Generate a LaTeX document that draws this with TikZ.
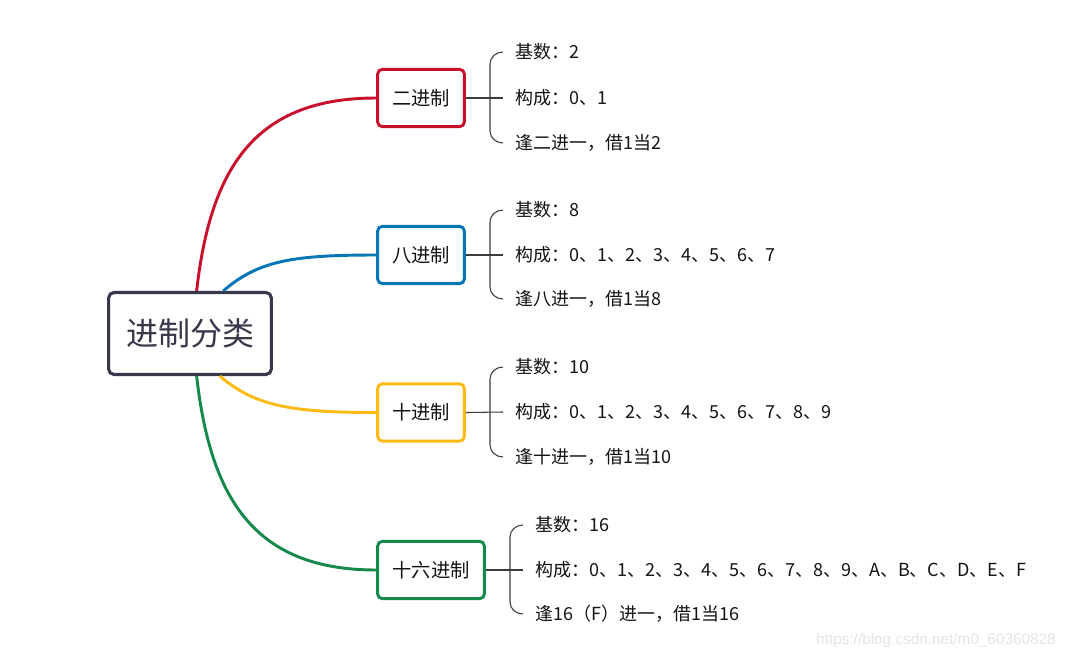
\documentclass[tikz,border=0pt]{standalone}
\usepackage{fontspec}
\setmainfont{Noto Sans CJK SC}
\newfontfamily\wmfont{Liberation Sans}
\usetikzlibrary{calc}
\definecolor{cred}{RGB}{200,16,46}
\definecolor{cblue}{RGB}{0,118,182}
\definecolor{cyellow}{RGB}{252,186,18}
\definecolor{cgreen}{RGB}{21,137,76}
\definecolor{croot}{RGB}{56,56,74}
\definecolor{ctext}{RGB}{20,20,20}
\definecolor{cbrace}{RGB}{60,60,60}
\begin{document}
\begin{tikzpicture}[x=0.75pt,y=-0.75pt,
  rootbox/.style={draw=croot, line width=2.3pt, rounded corners=4pt, fill=white,
    minimum width=122pt, minimum height=61.5pt, inner sep=0pt,
    font=\fontsize{24}{28}\selectfont, text=croot},
  branchbox/.style={draw=#1, line width=2.2pt, rounded corners=3.5pt, fill=white,
    minimum width=65pt, minimum height=43pt, inner sep=0pt,
    font=\fontsize{14.5}{17}\selectfont, text=ctext},
  branch/.style={draw=#1, line width=2.2pt},
  leaf/.style={anchor=west, inner sep=0pt, font=\fontsize{13.5}{16}\selectfont, text=ctext},
  bracket/.style={draw=cbrace, line width=0.8pt}
]
\useasboundingbox (0,0) rectangle (1069,660);
\fill[white] (0,0) rectangle (1069,660);

% root
\node[rootbox] (root) at (190,333.5) {进制分类};

% branch boxes
\node[branchbox=cred] (b2) at (421,98) {二进制};
\node[branchbox=cblue] (b8) at (421,255) {八进制};
\node[branchbox=cyellow] (b10) at (421,412.5) {十进制};
\node[branchbox=cgreen, minimum width=80pt] (b16) at (431,570) {十六进制};

% start points on root
\coordinate (sr) at ($(root.north west)!0.54!(root.north east)$);
\coordinate (sb) at ($(root.north west)!0.70!(root.north east)$);
\coordinate (sy) at ($(root.south west)!0.68!(root.south east)$);
\coordinate (sg) at ($(root.south west)!0.54!(root.south east)$);

\draw[branch=cred] (sr) .. controls +(14,-125) and +(-120,0) .. (b2.west);
\draw[branch=cblue] (sb) .. controls +(35,-30) and +(-85,0) .. (b8.west);
\draw[branch=cyellow] (sy) .. controls +(35,30) and +(-85,0) .. (b10.west);
\draw[branch=cgreen] (sg) .. controls +(14,125) and +(-120,0) .. (b16.west);

% leaves: binary
\node[leaf] (l2a) at (515,52) {基数：2};
\node[leaf] (l2b) at (515,98) {构成：0、1};
\node[leaf] (l2c) at (515,143) {逢二进一，借1当2};
% octal
\node[leaf] (l8a) at (515,210) {基数：8};
\node[leaf] (l8b) at (515,255) {构成：0、1、2、3、4、5、6、7};
\node[leaf] (l8c) at (515,299) {逢八进一，借1当8};
% decimal
\node[leaf] (l10a) at (515,367) {基数：10};
\node[leaf] (l10b) at (515,412) {构成：0、1、2、3、4、5、6、7、8、9};
\node[leaf] (l10c) at (515,457) {逢十进一，借1当10};
% hex
\node[leaf] (l16a) at (535,525) {基数：16};
\node[leaf] (l16b) at (535,570) {构成：0、1、2、3、4、5、6、7、8、9、A、B、C、D、E、F};
\node[leaf] (l16c) at (535,614) {逢16（F）进一，借1当16};

% brackets
\foreach \b/\ta/\tb/\tc in {b2/l2a/l2b/l2c, b8/l8a/l8b/l8c, b10/l10a/l10b/l10c, b16/l16a/l16b/l16c}{
  \draw[bracket] (\b.east) -- ($(\tb.west)+(-12,0)$);
  \draw[bracket] ($(\ta.west)+(-12,0)$) to[out=180,in=90] ($(\ta.west)+(-25,12)$)
     -- ($(\tc.west)+(-25,-12)$) to[out=-90,in=180] ($(\tc.west)+(-12,0)$);
}

% watermark
\node[inner sep=0pt, text=black!10, font=\wmfont\fontsize{11.5}{13}\selectfont] (wm) at (936,641) {https://blog.csdn.net/m0\_60360828};
\end{tikzpicture}
\end{document}
